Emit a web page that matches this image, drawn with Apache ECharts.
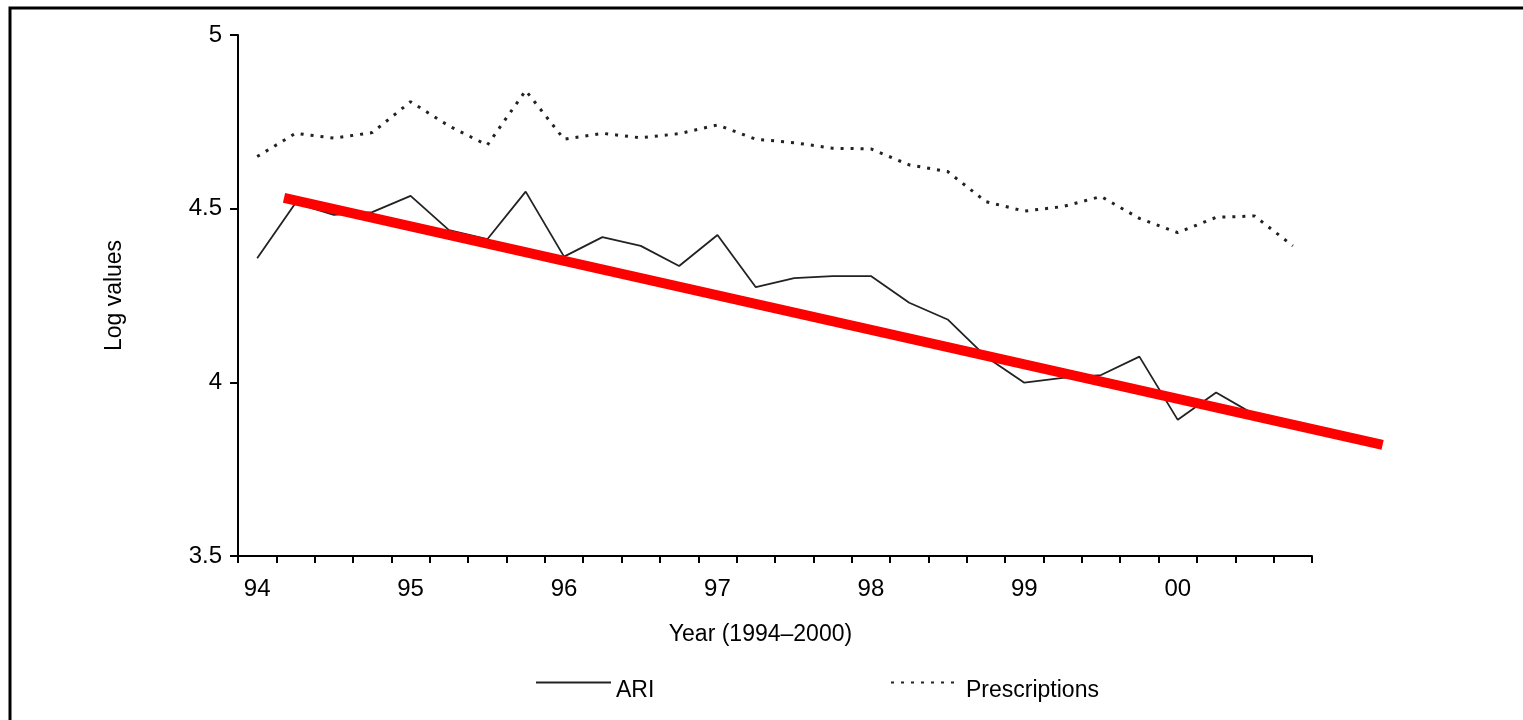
<!DOCTYPE html>
<html>
<head>
<meta charset="utf-8">
<script src="https://cdn.jsdelivr.net/npm/echarts@6/dist/echarts.min.js"></script>
<style>
html,body{margin:0;padding:0;background:#fff;}
#chart{width:1523px;height:720px;}
</style>
</head>
<body>
<div id="chart"></div>
<script>
// ---- data ----
const years = ['94', '95', '96', '97', '98', '99', '00'];
const quarters = ['Q1', 'Q2', 'Q3', 'Q4'];
const categories = years.flatMap(y => quarters.map(q => y + ' ' + q));

const ari = [4.357, 4.516, 4.482, 4.490, 4.537, 4.438, 4.412, 4.549,
             4.362, 4.418, 4.393, 4.335, 4.424, 4.274, 4.300, 4.306,
             4.306, 4.229, 4.181, 4.074, 3.999, 4.013, 4.021, 4.074,
             3.892, 3.971, 3.907, 3.874];

const prescriptions = [4.650, 4.717, 4.703, 4.719, 4.808, 4.738, 4.683, 4.840,
                       4.700, 4.717, 4.704, 4.716, 4.741, 4.700, 4.690, 4.674,
                       4.672, 4.626, 4.607, 4.520, 4.493, 4.506, 4.535, 4.472,
                       4.431, 4.475, 4.479, 4.393];

// red trend line (x in years, y in log values)
const trend = [[1994.30, 4.531], [2001.46, 3.820]];

const yTicks = {min: 3.5, max: 5, interval: 0.5};

const FONT = "'Liberation Sans', Arial, Helvetica, sans-serif";

// main plot: 7 years over 1074 px; trend grid spans 7.5 years at same scale
const GRID_LEFT = 238, GRID_TOP = 35, GRID_W = 1074, GRID_H = 521;

const legendText = {
  fontFamily: FONT, fontSize: 23, color: '#000',
  rich: {t: {fontFamily: FONT, fontSize: 23, color: '#000', padding: [16, 0, 0, 0]}}
};

const chart = echarts.init(document.getElementById('chart'), null, {renderer: 'canvas'});
chart.setOption({
  animation: false,
  backgroundColor: '#fff',
  textStyle: {fontFamily: FONT, color: '#000'},
  graphic: [{
    type: 'rect',
    shape: {x: 10, y: 8, width: 1700, height: 900},
    style: {fill: 'none', stroke: '#000', lineWidth: 3},
    silent: true
  }],
  grid: [
    {left: GRID_LEFT, top: GRID_TOP, width: GRID_W, height: GRID_H, containLabel: false},
    {left: GRID_LEFT, top: GRID_TOP, width: GRID_W * 7.5 / 7, height: GRID_H, containLabel: false}
  ],
  legend: [{
    data: ['ARI'],
    left: 530, top: 672,
    itemWidth: 75, itemHeight: 14,
    itemStyle: {opacity: 0},
    formatter: '{t|{name}}',
    textStyle: legendText
  }, {
    data: ['Prescriptions'],
    left: 885, top: 672,
    itemWidth: 70, itemHeight: 14,
    itemStyle: {opacity: 0},
    formatter: '{t|{name}}',
    textStyle: legendText
  }],
  xAxis: [{
    type: 'category',
    gridIndex: 0,
    data: categories,
    boundaryGap: true,
    axisLine: {lineStyle: {color: '#000', width: 2}},
    axisTick: {show: true, interval: 0, alignWithLabel: false, length: 7, lineStyle: {color: '#000', width: 2}},
    axisLabel: {interval: 3, formatter: v => v.slice(0, 2), fontFamily: FONT, fontSize: 24, color: '#000', margin: 21},
    splitLine: {show: false},
    name: 'Year (1994\u20132000)',
    nameLocation: 'middle',
    nameGap: 67,
    nameTextStyle: {fontFamily: FONT, fontSize: 23, color: '#000', padding: [0, 29, 0, 0]}
  }, {
    type: 'value',
    gridIndex: 1,
    min: 1994, max: 2001.5,
    show: false
  }],
  yAxis: [{
    type: 'value',
    gridIndex: 0,
    min: yTicks.min, max: yTicks.max, interval: yTicks.interval,
    axisLine: {show: true, lineStyle: {color: '#000', width: 2}},
    axisTick: {show: true, length: 8, lineStyle: {color: '#000', width: 2}},
    axisLabel: {fontFamily: FONT, fontSize: 24, color: '#000', margin: 16},
    splitLine: {show: false},
    name: 'Log values',
    nameLocation: 'middle',
    nameGap: 112,
    nameRotate: 90,
    nameTextStyle: {fontFamily: FONT, fontSize: 23, color: '#000'}
  }, {
    type: 'value',
    gridIndex: 1,
    min: yTicks.min, max: yTicks.max,
    show: false
  }],
  series: [{
    name: 'ARI',
    type: 'line',
    data: ari,
    symbol: 'none',
    lineStyle: {color: '#222', width: 1.8},
    itemStyle: {color: '#222'}
  }, {
    name: 'Prescriptions',
    type: 'line',
    data: prescriptions,
    symbol: 'none',
    lineStyle: {color: '#222', width: 3, type: [3, 7]},
    itemStyle: {color: '#222'}
  }, {
    name: 'trend',
    type: 'line',
    xAxisIndex: 1,
    yAxisIndex: 1,
    data: trend,
    symbol: 'none',
    clip: false,
    silent: true,
    z: 5,
    lineStyle: {color: '#ff0000', width: 10, cap: 'butt'}
  }]
});
</script>
</body>
</html>
